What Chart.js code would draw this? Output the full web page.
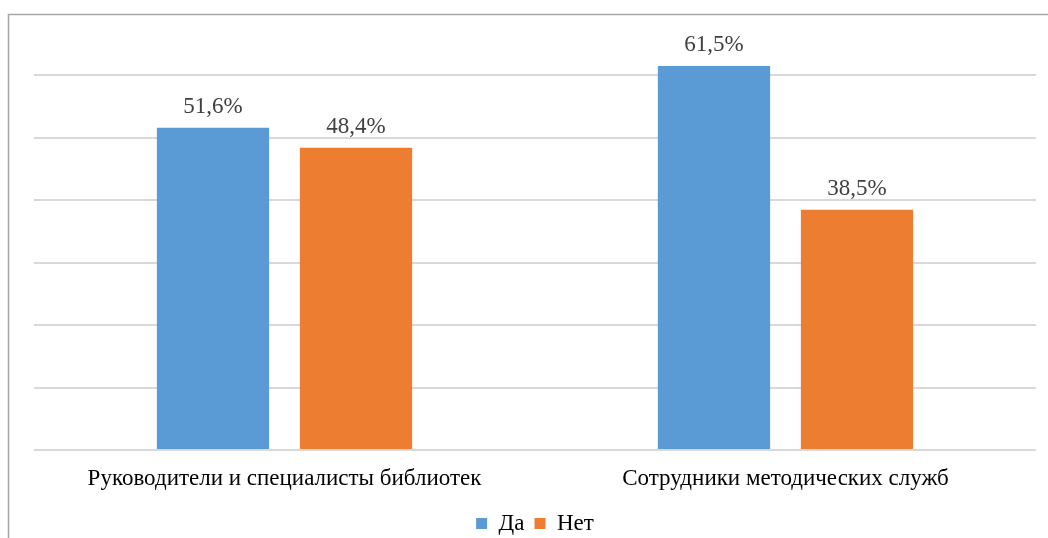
<!DOCTYPE html>
<html>
<head>
<meta charset="utf-8">
<script src="https://cdn.jsdelivr.net/npm/chart.js@4"></script>
<style>
html,body{margin:0;padding:0;background:#fff;overflow:hidden;}
#wrap{width:1048px;height:545px;position:relative;}
</style>
</head>
<body>
<div id="wrap"><canvas id="c" width="1048" height="545"></canvas></div>
<script>
const categories = ["Руководители и специалисты библиотек", "Сотрудники методических служб"];
const seriesNames = ["Да", "Нет"];
const daValues = [51.6, 61.5];
const netValues = [48.4, 38.5];
const yTicks = [0, 10, 20, 30, 40, 50, 60, 70];

const frame = {
  id: 'frame',
  afterDraw(chart) {
    const ctx = chart.ctx;
    ctx.save();
    ctx.strokeStyle = '#a6a6a6';
    ctx.lineWidth = 1.5;
    ctx.beginPath();
    ctx.moveTo(8.5, 560);
    ctx.lineTo(8.5, 14.5);
    ctx.lineTo(1060, 14.5);
    ctx.stroke();
    ctx.restore();
  }
};

const valueLabels = {
  id: 'valueLabels',
  afterDatasetsDraw(chart) {
    const ctx = chart.ctx;
    ctx.save();
    ctx.font = '23px "Liberation Serif"';
    ctx.fillStyle = '#404040';
    ctx.textAlign = 'center';
    ctx.textBaseline = 'alphabetic';
    chart.data.datasets.forEach((ds, i) => {
      chart.getDatasetMeta(i).data.forEach((bar, j) => {
        const txt = ds.data[j].toFixed(1).replace('.', ',') + '%';
        ctx.fillText(txt, bar.x, bar.y - 15);
      });
    });
    ctx.restore();
  }
};

new Chart(document.getElementById('c'), {
  type: 'bar',
  data: {
    labels: categories,
    datasets: [
      { label: seriesNames[0], data: daValues, backgroundColor: '#5B9BD5',
        categoryPercentage: 0.571, barPercentage: 0.785 },
      { label: seriesNames[1], data: netValues, backgroundColor: '#ED7D31',
        categoryPercentage: 0.571, barPercentage: 0.785 }
    ]
  },
  options: {
    responsive: false,
    animation: false,
    layout: { padding: { left: 34, right: 12, top: 13, bottom: 0 } },
    plugins: {
      legend: {
        position: 'bottom',
        labels: {
          font: { family: '"Liberation Serif"', size: 23 },
          color: '#000',
          boxWidth: 11, boxHeight: 11, padding: 10
        }
      },
      tooltip: { enabled: false }
    },
    scales: {
      y: {
        min: 0, max: 70,
        afterBuildTicks(scale) { scale.ticks = yTicks.map(v => ({ value: v })); },
        ticks: { display: false },
        border: { display: false },
        grid: {
          drawTicks: false,
          lineWidth: 2,
          color: c => c.tick && c.tick.value === 70 ? 'rgba(0,0,0,0)' : '#d9d9d9'
        }
      },
      x: {
        afterFit(scale) { scale.height = 52; },
        border: { display: false },
        grid: { display: false, drawTicks: false },
        ticks: {
          padding: 15,
          color: '#000',
          font: { family: '"Liberation Serif"', size: 23 }
        }
      }
    }
  },
  plugins: [frame, valueLabels]
});
</script>
</body>
</html>
